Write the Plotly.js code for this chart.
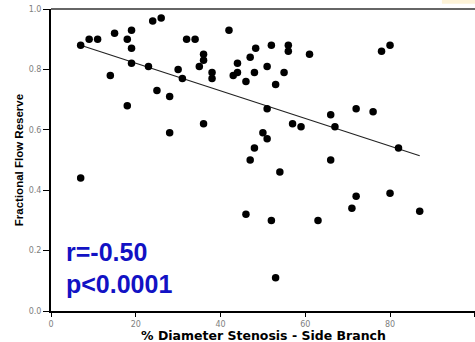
<!DOCTYPE html>
<html>
<head>
<meta charset="utf-8">
<script src="https://cdn.plot.ly/plotly-3.0.1.min.js"></script>
<style>
  html, body { margin: 0; padding: 0; background: #ffffff; }
  #chart { width: 475px; height: 342px; }
</style>
</head>
<body>
<div id="chart"></div>
<script>
// % diameter stenosis of side branch
const stenosis = [7, 9, 11, 14, 15, 18, 19, 19, 19, 18,
  23, 24, 26, 25, 28, 28, 30, 31, 32, 34,
  35, 36, 36, 36, 38, 38, 42, 44, 43, 44,
  46, 47, 48.3, 48, 52, 51, 53, 55, 56, 56,
  61, 78, 80, 51, 57, 59, 66, 67, 72, 76,
  82, 50, 51, 48, 47, 66, 54, 72, 80, 71,
  87, 46, 52, 63, 53, 7];
// fractional flow reserve
const ffr = [0.88, 0.90, 0.90, 0.78, 0.92, 0.90, 0.93, 0.87, 0.82, 0.68,
  0.81, 0.96, 0.97, 0.73, 0.71, 0.59, 0.80, 0.77, 0.90, 0.90,
  0.81, 0.85, 0.83, 0.62, 0.79, 0.77, 0.93, 0.82, 0.78, 0.79,
  0.76, 0.84, 0.87, 0.79, 0.88, 0.81, 0.75, 0.79, 0.88, 0.86,
  0.85, 0.86, 0.88, 0.67, 0.62, 0.61, 0.65, 0.61, 0.67, 0.66,
  0.54, 0.59, 0.57, 0.54, 0.50, 0.50, 0.46, 0.38, 0.39, 0.34,
  0.33, 0.32, 0.30, 0.30, 0.11, 0.44];
// regression line end points
const fitX = [7, 87];
const fitY = [0.880, 0.514];
// tick labels
const xTicks = [0, 20, 40, 60, 80, 100];
const yTicks = [0.0, 0.2, 0.4, 0.6, 0.8, 1.0];
const statText = ["r=-0.50", "p<0.0001"];

const tickFont = { family: "DejaVu Sans, sans-serif", size: 8, color: "#808080" };

const traces = [
  {
    x: fitX, y: fitY, type: "scatter", mode: "lines",
    line: { color: "#222222", width: 1.2 }, hoverinfo: "skip", showlegend: false
  },
  {
    x: stenosis, y: ffr, type: "scatter", mode: "markers",
    marker: { color: "#000000", size: 7.5, line: { width: 0 } },
    showlegend: false
  }
];

const layout = {
  width: 475, height: 342,
  margin: { l: 51, r: 0, t: 9, b: 31 },
  paper_bgcolor: "#ffffff", plot_bgcolor: "#ffffff",
  showlegend: false,
  xaxis: {
    range: [0, 100.05], tickvals: xTicks, ticktext: xTicks.map(String),
    ticks: "outside", ticklen: 4, tickwidth: 1, tickcolor: "#000000",
    showline: true, linecolor: "#000000", linewidth: 2,
    showgrid: false, zeroline: false, tickfont: tickFont
  },
  yaxis: {
    range: [0, 1], tickvals: yTicks, ticktext: yTicks.map(v => v.toFixed(1)),
    ticks: "outside", ticklen: 6, tickwidth: 1, tickcolor: "#000000",
    showline: true, linecolor: "#000000", linewidth: 2,
    showgrid: false, zeroline: false, tickfont: tickFont
  },
  shapes: [
    { type: "line", xref: "paper", yref: "paper", x0: 0, x1: 1, y0: 1, y1: 1,
      line: { color: "#666666", width: 2 } },
    { type: "rect", xref: "paper", yref: "paper", x0: 0.922, x1: 1.0, y0: 1.017, y1: 1.04,
      line: { width: 0 }, fillcolor: "#fdf3d8", layer: "below" }
  ],
  annotations: [
    { text: "Fractional Flow Reserve", xref: "paper", yref: "paper",
      x: -0.075, y: 0.5, xanchor: "center", yanchor: "middle", textangle: -90,
      showarrow: false,
      font: { family: "Liberation Sans Narrow, Arial Narrow, sans-serif", size: 11.5, color: "#000000", weight: "bold" } },
    { text: "% Diameter Stenosis - Side Branch", xref: "paper", yref: "paper",
      x: 0.5, y: -0.08, xanchor: "center", yanchor: "middle",
      showarrow: false,
      font: { family: "DejaVu Sans, sans-serif", size: 12.5, color: "#000000", weight: "bold" } },
    { text: statText[0], xref: "paper", yref: "paper",
      x: 0.031, y: 0.197, xanchor: "left", yanchor: "middle", showarrow: false,
      font: { family: "Liberation Sans, Arial, sans-serif", size: 25, color: "#1212c4", weight: "bold" } },
    { text: statText[1], xref: "paper", yref: "paper",
      x: 0.031, y: 0.088, xanchor: "left", yanchor: "middle", showarrow: false,
      font: { family: "Liberation Sans, Arial, sans-serif", size: 25, color: "#1212c4", weight: "bold" } }
  ]
};

Plotly.newPlot("chart", traces, layout, { staticPlot: true, displayModeBar: false });
</script>
</body>
</html>
